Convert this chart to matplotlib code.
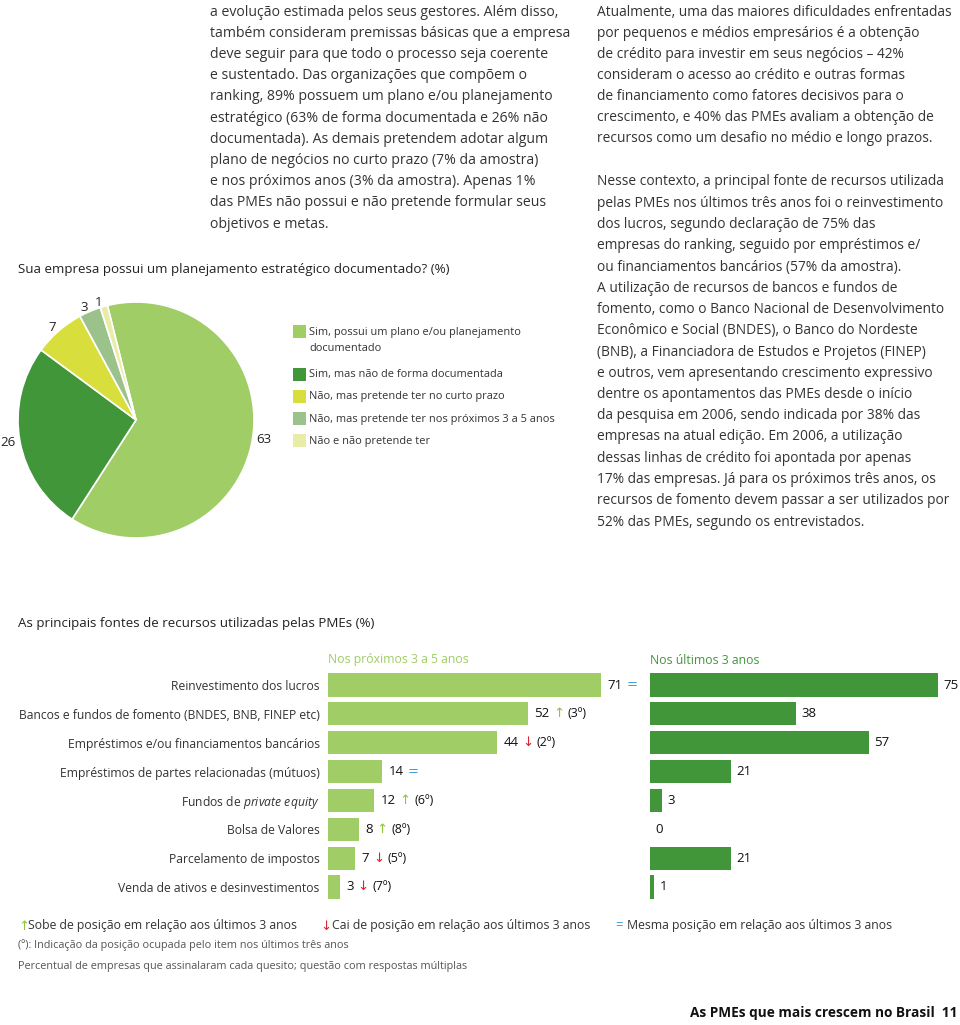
import matplotlib
matplotlib.use("Agg")
import matplotlib.pyplot as plt
from matplotlib.patches import Rectangle
from matplotlib.offsetbox import TextArea, HPacker, AnnotationBbox

W, H = 960, 1025
plt.rcParams['font.family'] = ['Open Sans', 'DejaVu Sans']
plt.rcParams['mathtext.fontset'] = 'custom'
plt.rcParams['mathtext.rm'] = 'Open Sans'
plt.rcParams['mathtext.it'] = 'Open Sans:italic'

TXT = '#333333'
LIGHT = '#a0cd66'
DARK = '#41963a'
RED = '#e0202a'
BLUE = '#3a9ad6'
UP = '#8cc63f'

mid_lines = [
    "a evolução estimada pelos seus gestores. Além disso,",
    "também consideram premissas básicas que a empresa",
    "deve seguir para que todo o processo seja coerente",
    "e sustentado. Das organizações que compõem o",
    "ranking, 89% possuem um plano e/ou planejamento",
    "estratégico (63% de forma documentada e 26% não",
    "documentada). As demais pretendem adotar algum",
    "plano de negócios no curto prazo (7% da amostra)",
    "e nos próximos anos (3% da amostra). Apenas 1%",
    "das PMEs não possui e não pretende formular seus",
    "objetivos e metas.",
]
right_lines_a = [
    "Atualmente, uma das maiores dificuldades enfrentadas",
    "por pequenos e médios empresários é a obtenção",
    "de crédito para investir em seus negócios – 42%",
    "consideram o acesso ao crédito e outras formas",
    "de financiamento como fatores decisivos para o",
    "crescimento, e 40% das PMEs avaliam a obtenção de",
    "recursos como um desafio no médio e longo prazos.",
]
right_lines_b = [
    "Nesse contexto, a principal fonte de recursos utilizada",
    "pelas PMEs nos últimos três anos foi o reinvestimento",
    "dos lucros, segundo declaração de 75% das",
    "empresas do ranking, seguido por empréstimos e/",
    "ou financiamentos bancários (57% da amostra).",
    "A utilização de recursos de bancos e fundos de",
    "fomento, como o Banco Nacional de Desenvolvimento",
    "Econômico e Social (BNDES), o Banco do Nordeste",
    "(BNB), a Financiadora de Estudos e Projetos (FINEP)",
    "e outros, vem apresentando crescimento expressivo",
    "dentre os apontamentos das PMEs desde o início",
    "da pesquisa em 2006, sendo indicada por 38% das",
    "empresas na atual edição. Em 2006, a utilização",
    "dessas linhas de crédito foi apontada por apenas",
    "17% das empresas. Já para os próximos três anos, os",
    "recursos de fomento devem passar a ser utilizados por",
    "52% das PMEs, segundo os entrevistados.",
]

pie_labels = [
    "Sim, possui um plano e/ou planejamento\ndocumentado",
    "Sim, mas não de forma documentada",
    "Não, mas pretende ter no curto prazo",
    "Não, mas pretende ter nos próximos 3 a 5 anos",
    "Não e não pretende ter",
]
pie_values = [63, 26, 7, 3, 1]
pie_colors = [LIGHT, DARK, '#d8de3b', '#9cc28c', '#e9eca6']

categories = [
    "Reinvestimento dos lucros",
    "Bancos e fundos de fomento (BNDES, BNB, FINEP etc)",
    "Empréstimos e/ou financiamentos bancários",
    "Empréstimos de partes relacionadas (mútuos)",
    r"Fundos de $\it{private\ equity}$",
    "Bolsa de Valores",
    "Parcelamento de impostos",
    "Venda de ativos e desinvestimentos",
]
next_values = [71, 52, 44, 14, 12, 8, 7, 3]
trend = ['=', 'up', 'down', '=', 'up', 'up', 'down', 'down']
prev_rank = ['', '(3º)', '(2º)', '', '(6º)', '(8º)', '(5º)', '(7º)']
last_values = [75, 38, 57, 21, 3, 0, 21, 1]

fig = plt.figure(figsize=(W / 100, H / 100), dpi=100)


def ftext(x, y, s, **kw):
    kw.setdefault('va', 'center')
    kw.setdefault('color', TXT)
    return fig.text(x / W, 1 - y / H, s, **kw)


def px_axes(left, top, width, height):
    return fig.add_axes([left / W, 1 - (top + height) / H, width / W, height / H])


# body text columns
for i, s in enumerate(mid_lines):
    ftext(210, 12 + i * 21.2, s, fontsize=10.1)
for i, s in enumerate(right_lines_a):
    ftext(597, 12 + i * 21.1, s, fontsize=9.9)
for i, s in enumerate(right_lines_b):
    ftext(597, 182 + i * 21.25, s, fontsize=9.9)

# pie
ftext(18, 270, "Sua empresa possui um planejamento estratégico documentado? (%)",
      fontsize=9.6, color='#222222')
pax = px_axes(18, 302, 236, 236)
pax.pie(pie_values, colors=pie_colors, labels=[str(v) for v in pie_values],
        startangle=104, counterclock=False, labeldistance=1.035,
        wedgeprops=dict(edgecolor='white', linewidth=1.2),
        textprops=dict(fontsize=9.5, color='#222222'))
pax.set_xlim(-1, 1)
pax.set_ylim(-1, 1)
pax.set_aspect('equal')

leg_y = [331, 374, 396, 419, 441]
for y, lab, c in zip(leg_y, pie_labels, pie_colors):
    fig.patches.append(Rectangle((293 / W, 1 - (y + 6.5) / H), 13 / W, 13 / H,
                                 transform=fig.transFigure, facecolor=c, edgecolor='none'))
    for j, line in enumerate(lab.split('\n')):
        ftext(309, y + 1 + j * 16, line, fontsize=7.9)

# bar charts
ftext(18, 624, "As principais fontes de recursos utilizadas pelas PMEs (%)",
      fontsize=9.6, color='#222222')
ftext(328, 660, "Nos próximos 3 a 5 anos", fontsize=8.8, color=LIGHT)
ftext(650, 660, "Nos últimos 3 anos", fontsize=8.8, color=DARK)

top, height = 670.6, 230.8
xmax = 290 / 3.84
ax1 = px_axes(328, top, 290, height)
ax2 = px_axes(650, top, 290, height)
rows = list(range(len(categories)))
ax1.barh(rows, next_values, height=0.8, color=LIGHT)
ax2.barh(rows, last_values, height=0.8, color=DARK)
for ax in (ax1, ax2):
    ax.set_xlim(0, xmax)
    ax.set_ylim(len(categories) - 0.5, -0.5)
    for sp in ax.spines.values():
        sp.set_visible(False)
    ax.set_xticks([])
    ax.set_facecolor('none')
ax2.set_yticks([])
ax1.set_yticks(rows)
ax1.set_yticklabels(categories, fontsize=8.7, color=TXT)
ax1.tick_params(axis='y', length=0, pad=6)

sym = {'=': ('=', BLUE), 'up': ('↑', UP), 'down': ('↓', RED)}
for i, (v, tr, rk) in enumerate(zip(next_values, trend, prev_rank)):
    s, c = sym[tr]
    parts = [TextArea(str(v), textprops=dict(fontsize=9.5, color='#111111')),
             TextArea(s, textprops=dict(fontsize=9.5, color=c,
                                        family=['DejaVu Sans']))]
    if rk:
        parts.append(TextArea(rk, textprops=dict(fontsize=9, color='#111111')))
    box = HPacker(children=parts, align='center', pad=0, sep=2.5)
    ab = AnnotationBbox(box, (v, i), xybox=(5, 0), boxcoords='offset points',
                        box_alignment=(0, 0.5), frameon=False, pad=0)
    ax1.add_artist(ab)
for i, v in enumerate(last_values):
    ax2.annotate(str(v), (v, i), xytext=(4, 0), textcoords='offset points',
                 va='center', ha='left', fontsize=9.5, color='#111111')

# footnotes
ftext(18, 926, "↑", fontsize=9.5, color=UP, family=['DejaVu Sans'])
ftext(28, 926, "Sobe de posição em relação aos últimos 3 anos", fontsize=8.8)
ftext(320, 926, "↓", fontsize=9.5, color=RED, family=['DejaVu Sans'])
ftext(332, 926, "Cai de posição em relação aos últimos 3 anos", fontsize=8.8)
ftext(615, 926, "=", fontsize=9.5, color=BLUE)
ftext(627, 926, "Mesma posição em relação aos últimos 3 anos", fontsize=8.8)
ftext(18, 945, "(º): Indicação da posição ocupada pelo item nos últimos três anos",
      fontsize=7.8, color='#555555')
ftext(18, 966, "Percentual de empresas que assinalaram cada quesito; questão com respostas múltiplas",
      fontsize=7.8, color='#555555')
ftext(958, 1013, "As PMEs que mais crescem no Brasil  11", fontsize=9.8,
      weight='bold', ha='right', color='#111111')

fig.savefig("out.png", dpi=100)
